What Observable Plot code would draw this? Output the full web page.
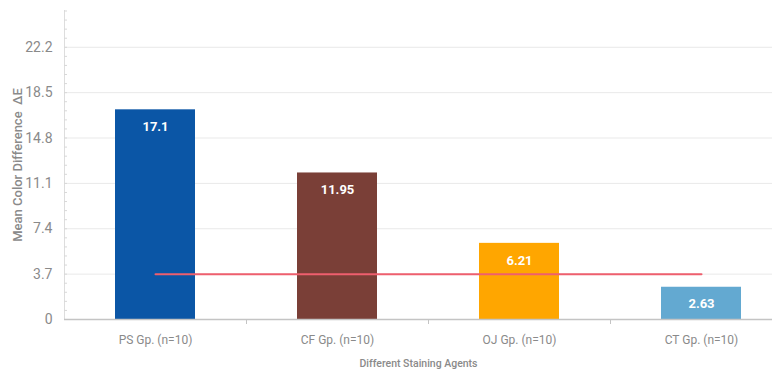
<!DOCTYPE html>
<html>
<head>
<meta charset="utf-8">
<script src="https://cdn.jsdelivr.net/npm/d3@7"></script>
<script src="https://cdn.jsdelivr.net/npm/@observablehq/plot@0.6"></script>
<style>
  html, body { margin: 0; padding: 0; background: #fff; overflow: hidden; }
  #chart { width: 772px; height: 372px; overflow: hidden; }
</style>
</head>
<body>
<div id="chart"></div>
<script>
const categories = ["PS Gp. (n=10)", "CF Gp. (n=10)", "OJ Gp. (n=10)", "CT Gp. (n=10)"];
const values = [17.1, 11.95, 6.21, 2.63];
const valueLabels = ["17.1", "11.95", "6.21", "2.63"];
const barColors = ["#0b56a6", "#7a3f37", "#ffa600", "#63a9d1"];
const referenceValues = [3.7, 3.7, 3.7, 3.7];
const yTicks = [0, 3.7, 7.4, 11.1, 14.8, 18.5, 22.2];
const yMinorTicks = d3.range(0, 25.2, 0.74);
const yTitle = "Mean Color Difference  \u0394E";
const xTitle = "Different Staining Agents";

const data = categories.map((c, i) => ({cat: c, value: values[i], label: valueLabels[i], color: barColors[i], ref: referenceValues[i]}));

const font = 'Roboto, "Liberation Sans", sans-serif';

const plot = Plot.plot({
  width: 772,
  height: 372,
  marginLeft: 64,
  marginRight: 0,
  marginTop: 10,
  marginBottom: 53,
  style: {fontFamily: font, background: "#fff", overflow: "visible"},
  x: {domain: categories, range: [64, 792], paddingInner: 0.56, paddingOuter: 0.28},
  y: {domain: [0, 25.2]},
  marks: [
    Plot.gridY(yTicks.slice(1), {stroke: "#e9e9e9", strokeOpacity: 1}),
    Plot.frame({anchor: "left", stroke: "#dddddd"}),
    Plot.axisY({ticks: yMinorTicks, tickSize: 3, dx: 3, text: null, stroke: "#d8d8d8", label: null}),
    Plot.axisY({ticks: yTicks, tickSize: 0, tickPadding: 12, tickFormat: d => String(d), fontSize: 14, fill: "#8a8a8a", label: null}),
    Plot.barY(data, {x: "cat", y: "value", fill: "color"}),
    Plot.ruleY([0], {stroke: "#c4c4c4", strokeWidth: 1.5}),
    Plot.axisX({ticks: categories.slice(0, 3), tickSize: 5, dx: 91, text: null, stroke: "#c4c4c4", label: null}),
    Plot.axisX({tickSize: 0, tickPadding: 16, fontSize: 12, fill: "#8a8a8a", label: null}),
    Plot.lineY(data, {x: "cat", y: "ref", stroke: "#ee5f6e", strokeWidth: 2}),
    Plot.text(data, {x: "cat", y: "value", text: "label", dy: 17, fill: "#ffffff", fontWeight: "bold", fontSize: 13}),
    Plot.text([xTitle], {frameAnchor: "bottom", textAnchor: "middle", dy: 47, fill: "#8a8a8a", fontSize: 10.5, fontWeight: 500}),
    Plot.text([yTitle], {frameAnchor: "left", textAnchor: "middle", dx: -47, rotate: -90, fill: "#8a8a8a", fontSize: 13, fontWeight: 500})
  ]
});
document.getElementById("chart").appendChild(plot);
</script>
</body>
</html>
